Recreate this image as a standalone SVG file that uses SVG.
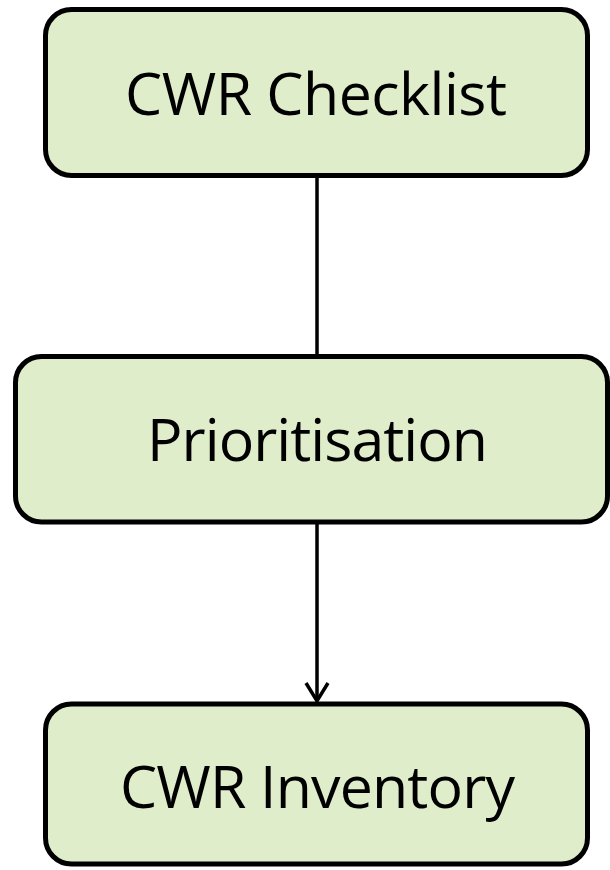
<svg xmlns="http://www.w3.org/2000/svg" width="610" height="870" viewBox="0 0 610 870">
<style>
.box{fill:#DFEDCA;stroke:#000;stroke-width:5}
.lbl{font-family:"Open Sans","Liberation Sans",sans-serif;font-size:59px;fill:#000;text-anchor:middle}
.conn{stroke:#000;stroke-width:3.5;fill:none}
</style>
<defs>
<marker id="arr" markerUnits="userSpaceOnUse" markerWidth="24" markerHeight="28" refX="20" refY="14" orient="auto" viewBox="0 0 24 28">
<path d="M2,3 L20,14 L2,25" fill="none" stroke="#000" stroke-width="3.5"/>
</marker>
</defs>
<g id="connectors">
<line class="conn" x1="317" y1="175" x2="317" y2="356"/>
<line class="conn" x1="317" y1="522" x2="317" y2="701" marker-end="url(#arr)"/>
</g>
<g id="node-checklist">
<rect class="box" x="45.5" y="9.5" width="542" height="166" rx="26" ry="26"/>
<text class="lbl" x="316" y="115" textLength="382">CWR Checklist</text>
</g>
<g id="node-prioritisation">
<rect class="box" x="15.5" y="356.5" width="592" height="165.5" rx="26" ry="26"/>
<text class="lbl" x="317.5" y="461" textLength="341">Prioritisation</text>
</g>
<g id="node-inventory">
<rect class="box" x="45.5" y="704" width="542" height="160" rx="26" ry="26"/>
<text class="lbl" x="317.5" y="808" textLength="395">CWR Inventory</text>
</g>
</svg>
